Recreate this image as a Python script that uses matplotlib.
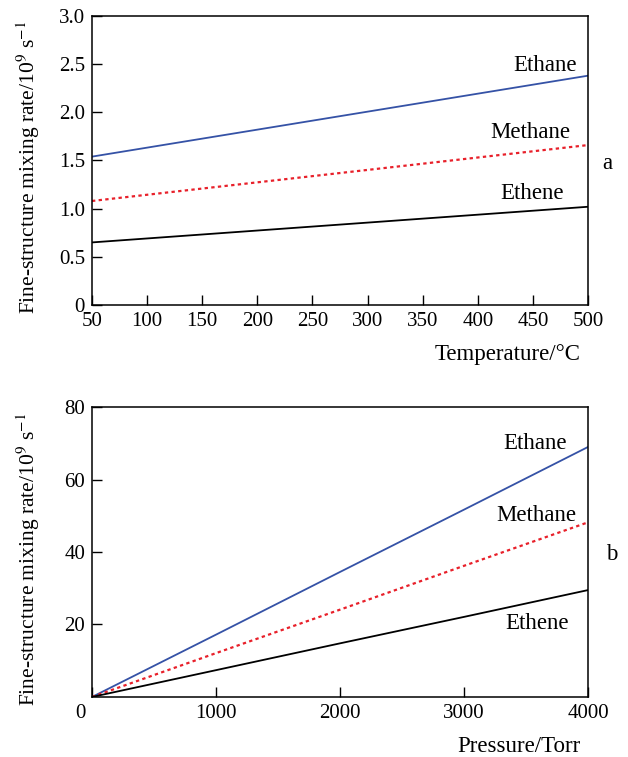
import numpy as np
import matplotlib.pyplot as plt
import matplotlib.transforms as mtransforms

plt.rcParams['font.family'] = ['Liberation Serif', 'DejaVu Serif']
plt.rcParams['mathtext.fontset'] = 'stix'

# panel a: temperature dependence
temp = [50, 500]
ethane_t = [1.54, 2.38]
methane_t = [1.08, 1.66]
ethene_t = [0.65, 1.02]

# panel b: pressure dependence
pres = [0, 1000, 2000, 3000, 4000]
ethane_p = [0, 17.2, 34.5, 51.7, 69.0]
methane_p = [0, 12.1, 24.1, 36.2, 48.2]
ethene_p = [0, 7.4, 14.8, 22.1, 29.5]

blue = '#3552a6'
red = '#e8202a'
tfs = 15
lfs = 16.5
ylab = 'Fine-structure mixing rate/10$^9$ s$^{-1}$'

fig = plt.figure(figsize=(6.28, 7.57), dpi=100)
ax1 = fig.add_axes([0.1465, 0.597, 0.790, 0.382])
ax2 = fig.add_axes([0.1465, 0.0793, 0.790, 0.383])

# --- a ---
ax1.plot(temp, ethane_t, color=blue, lw=1.3)
ax1.plot(temp, methane_t, color=red, lw=1.6, ls=(0, (1.5, 1.5)))
ax1.plot(temp, ethene_t, color='black', lw=1.3)
ax1.set_xlim(50, 500)
ax1.set_ylim(0, 3.0)
ax1.set_xticks(np.arange(50, 501, 50))
ax1.set_yticks(np.arange(0, 3.01, 0.5))
ax1.set_yticklabels(['0', '0.5', '1.0', '1.5', '2.0', '2.5', '3.0'])
ax1.text(461, 2.49, 'Ethane', ha='center', va='center', fontsize=lfs)
ax1.text(448, 1.79, 'Methane', ha='center', va='center', fontsize=lfs)
ax1.text(449, 1.16, 'Ethene', ha='center', va='center', fontsize=lfs)
ax1.text(1.038, 0.49, 'a', transform=ax1.transAxes, ha='center', va='center', fontsize=lfs)
ax1.set_ylabel(ylab, fontsize=15.5)
ax1.yaxis.set_label_coords(-0.10, 0.475)
ax1.set_xlabel('Temperature/°C', fontsize=lfs, ha='right')
ax1.xaxis.set_label_coords(0.984, -0.135)

# --- b ---
ax2.plot(pres, ethane_p, color=blue, lw=1.3)
ax2.plot(pres, methane_p, color=red, lw=1.6, ls=(0, (1.5, 1.5)))
ax2.plot(pres, ethene_p, color='black', lw=1.3)
ax2.set_xlim(0, 4000)
ax2.set_ylim(0, 80)
ax2.set_xticks([0, 1000, 2000, 3000, 4000])
ax2.set_yticks([20, 40, 60, 80])
ax2.text(3573, 70.0, 'Ethane', ha='center', va='center', fontsize=lfs)
ax2.text(3580, 50.2, 'Methane', ha='center', va='center', fontsize=lfs)
ax2.text(3590, 20.2, 'Ethene', ha='center', va='center', fontsize=lfs)
ax2.text(1.048, 0.49, 'b', transform=ax2.transAxes, ha='center', va='center', fontsize=lfs)
ax2.set_ylabel(ylab, fontsize=15.5)
ax2.yaxis.set_label_coords(-0.10, 0.475)
ax2.set_xlabel('Pressure/Torr', fontsize=lfs, ha='right')
ax2.xaxis.set_label_coords(0.984, -0.135)

for ax in (ax1, ax2):
    ax.tick_params(direction='in', length=7, width=1, labelsize=tfs,
                   top=False, right=False, pad=5)
    for s in ax.spines.values():
        s.set_linewidth(1.1)

# the "0" of panel b sits left of the corner
fig.canvas.draw()
lab0 = ax2.get_xticklabels()[0]
lab0.set_transform(lab0.get_transform() + mtransforms.ScaledTranslation(-0.12, 0, fig.dpi_scale_trans))

fig.savefig('out.png', dpi=100)
